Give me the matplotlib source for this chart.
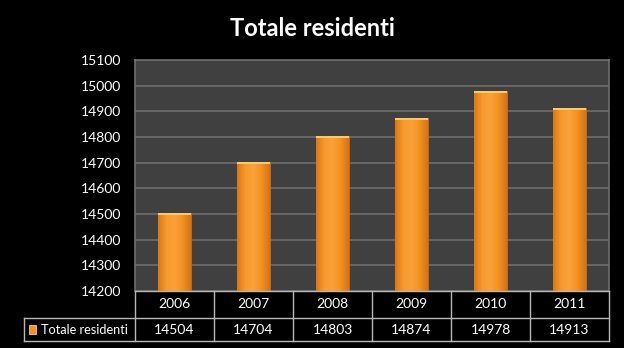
import numpy as np
import matplotlib
matplotlib.use('Agg')
import matplotlib.pyplot as plt
from matplotlib.colors import LinearSegmentedColormap

years = ['2006', '2007', '2008', '2009', '2010', '2011']
residents = [14504, 14704, 14803, 14874, 14978, 14913]
series_name = 'Totale residenti'
y_min, y_max, y_step = 14200, 15100, 100

W, H = 624, 348
plt.rcParams['font.family'] = ['Lato', 'DejaVu Sans']

fig = plt.figure(figsize=(W / 100, H / 100), dpi=100, facecolor='black')

# plot area in pixels: left, top, right, bottom
px_l, px_t, px_r, px_b = 135, 60, 609, 291
ax = fig.add_axes([px_l / W, 1 - px_b / H, (px_r - px_l) / W, (px_b - px_t) / H])
ax.set_facecolor('#404040')

x = np.arange(len(years))
bar_w = 0.41
bars = ax.bar(x, residents, width=bar_w, color='#F5921E', edgecolor='#C86A10',
              linewidth=0.6, zorder=3)

# horizontal shading across each bar plus a light bevel on top
orange = LinearSegmentedColormap.from_list(
    'bar', ['#D9771A', '#F89A2C', '#FBA13A', '#F3921F', '#D5731A'])
grad = np.tile(np.linspace(0, 1, 64), (2, 1))
for b, v in zip(bars, residents):
    x0 = b.get_x()
    im = ax.imshow(grad, cmap=orange, aspect='auto', zorder=3.5,
                   extent=(x0, x0 + bar_w, y_min, v), interpolation='bilinear')
    im.set_clip_path(b)
    ax.bar(b.get_x() + bar_w / 2, 8, bottom=v - 8, width=bar_w,
           color='#FFC86A', linewidth=0, zorder=4)

ax.set_xlim(-0.5, len(years) - 0.5)
ax.set_ylim(y_min, y_max)
ax.set_yticks(np.arange(y_min, y_max + 1, y_step))
ax.tick_params(axis='y', colors='white', labelsize=10, length=0, pad=10)
ax.set_xticks([])
ax.grid(axis='y', color='#6E6E6E', linewidth=1.2, zorder=1)
for side in ['top', 'right', 'left']:
    ax.spines[side].set_color('#6E6E6E')
    ax.spines[side].set_linewidth(1.2)
ax.spines['bottom'].set_visible(False)

fig.text(0.5, 1 - 28 / H, series_name, color='white', fontsize=17,
         fontweight='bold', ha='center', va='center')

# data table under the plot
ov = fig.add_axes([0, 0, 1, 1], facecolor='none')
ov.set_xlim(0, W)
ov.set_ylim(H, 0)
ov.axis('off')

line_kw = dict(color='#B8B8B8', linewidth=1.0)
row1_b, row2_b, key_l = 318, 341, 24
col_w = (px_r - px_l) / len(years)
ov.plot([px_l, px_r], [px_b, px_b], **line_kw)
ov.plot([key_l, px_r], [row1_b, row1_b], **line_kw)
ov.plot([key_l, px_r], [row2_b, row2_b], **line_kw)
ov.plot([key_l, key_l], [row1_b, row2_b], **line_kw)
for i in range(len(years) + 1):
    xc = px_l + i * col_w
    ov.plot([xc, xc], [px_b, row2_b], **line_kw)

for i, (yr, val) in enumerate(zip(years, residents)):
    cx = px_l + (i + 0.5) * col_w
    ov.text(cx, (px_b + row1_b) / 2, yr, color='white', fontsize=10,
            ha='center', va='center')
    ov.text(cx, (row1_b + row2_b) / 2, str(val), color='white', fontsize=10,
            ha='center', va='center')

ov.add_patch(plt.Rectangle((29, 325), 7, 9, facecolor='#F5921E',
                           edgecolor='#FFC86A', linewidth=0.6))
ov.text(41, (row1_b + row2_b) / 2, series_name, color='white', fontsize=9.2,
        ha='left', va='center')

fig.savefig('out.png', dpi=100, facecolor='black')
